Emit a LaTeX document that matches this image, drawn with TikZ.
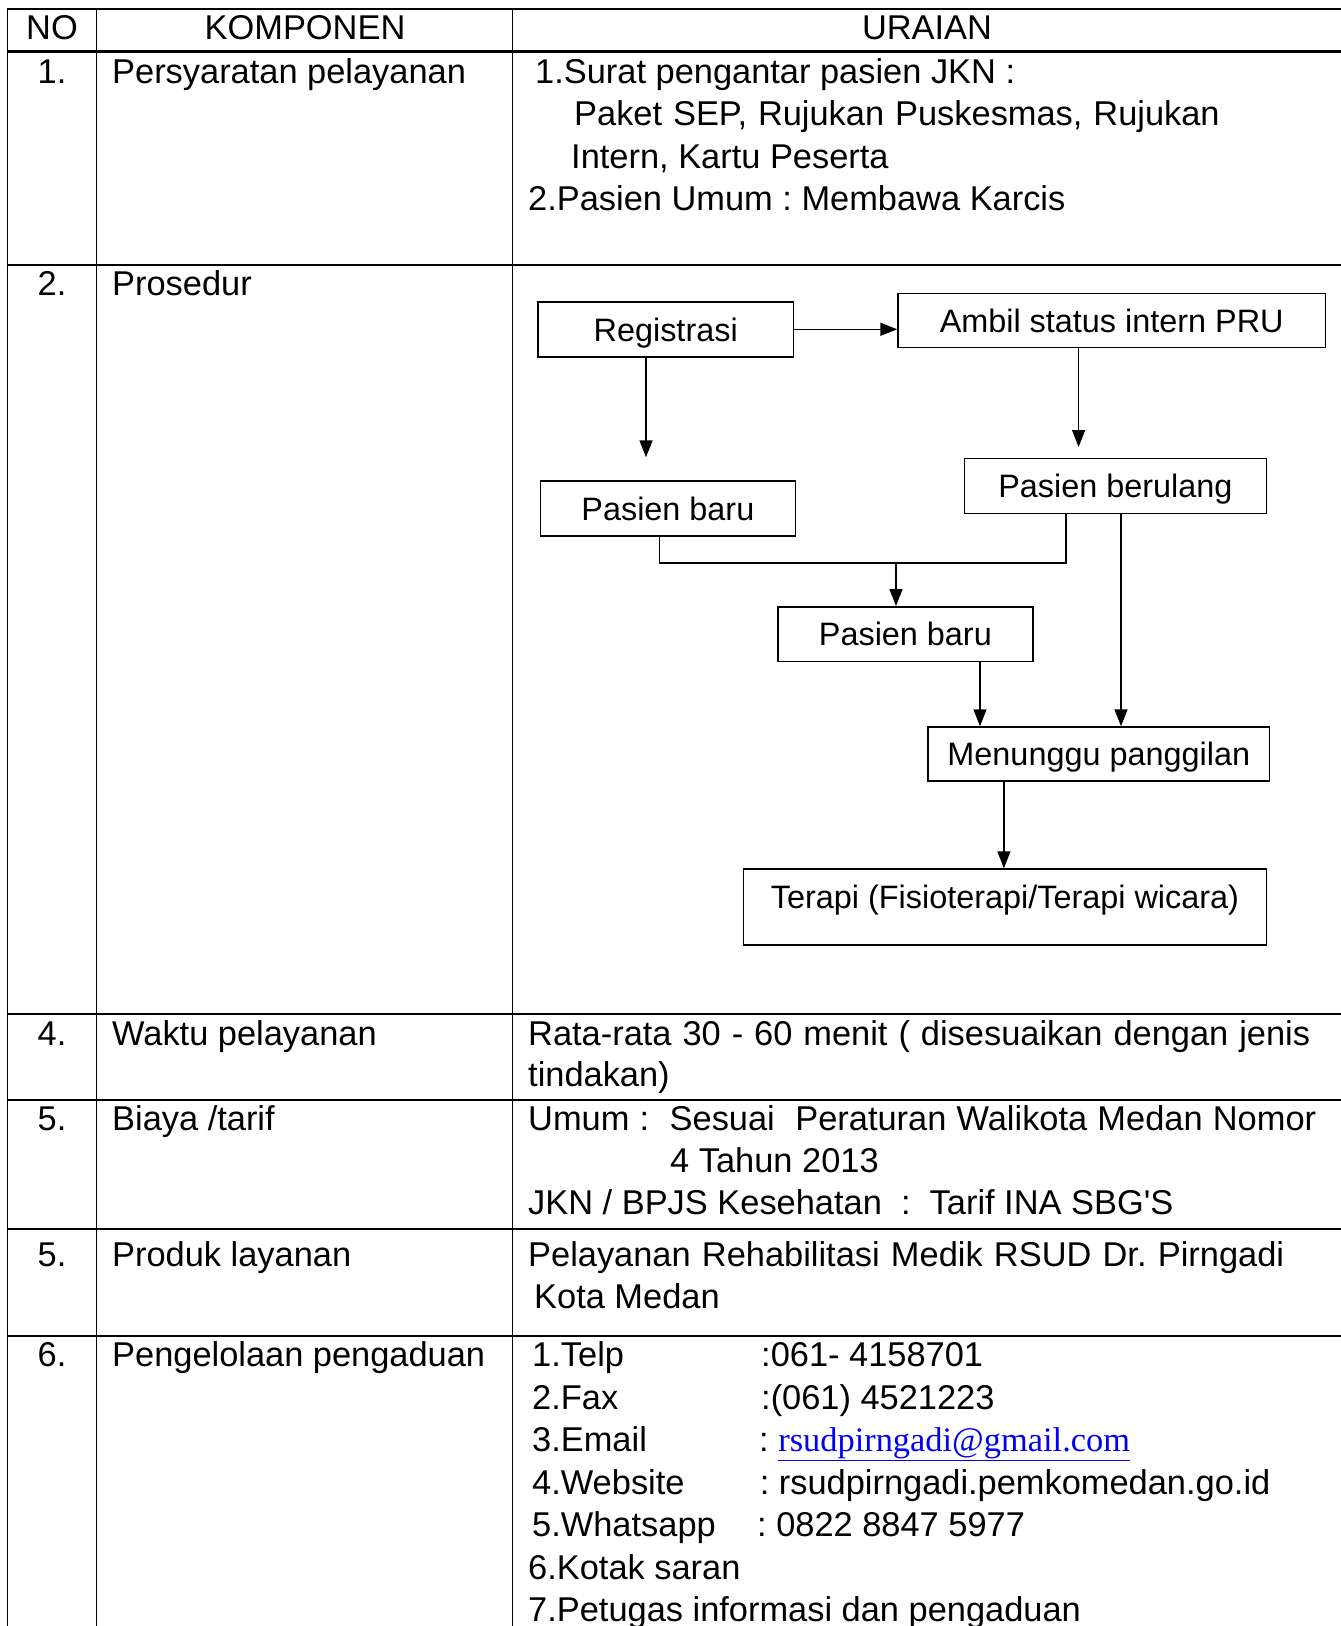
\documentclass[tikz,border=0pt]{standalone}
\usepackage{fontspec}
\setmainfont{Liberation Sans}
\newfontfamily\mailfont{Liberation Serif}
\usepackage{xcolor}
\usetikzlibrary{arrows.meta}
\newcommand\tabsize{\fontsize{34.4pt}{42.5pt}\selectfont}
\newcommand\boxsize{\fontsize{32.4pt}{38pt}\selectfont}
\newcommand\justline[2]{\hbox to #1pt{#2}}
\definecolor{linkblue}{RGB}{0,0,238}
\frenchspacing

\begin{document}
\begin{tikzpicture}[x=1pt,y=-1pt,
  txt/.style={anchor=base west,inner sep=0pt,font=\tabsize},
  num/.style={anchor=base,inner sep=0pt,font=\tabsize},
  box/.style={draw,line width=1.5pt,inner sep=0pt,font=\boxsize,text height=23.5pt,text depth=0pt},
  arr/.style={line width=1.5pt,-{Triangle[length=17pt,width=13pt]}},
  hline/.style={line width=2.2pt},
  vline/.style={line width=1.3pt}]
\useasboundingbox (0,0) rectangle (1341,1626);
\fill[white] (0,0) rectangle (1341,1626);
\draw[vline] (7.5,9.3)--(7.5,1626);
\draw[vline] (96.6,9.3)--(96.6,1626);
\draw[vline] (512.8,9.3)--(512.8,1626);
\foreach \y in {9.3,51.5,264.8,1013.6,1099.6,1229,1335.8}
  \draw[hline] (6.8,\y)--(1341,\y);

\node[num] (hno) at (52,39.4) {NO};
\node[num] (hkomp) at (305,39.4) {KOMPONEN};
\node[num] (hurai) at (927,39.4) {URAIAN};

\node[num] (no1) at (52,83.3) {1.};
\node[txt] (komp1) at (112,83.3) {Persyaratan pelayanan};
\node[txt] (syarat1) at (535,83.3) {1.Surat pengantar pasien JKN :};
\node[txt] (syarat2) at (574,125.8) {\justline{645.5}{Paket SEP, Rujukan Puskesmas, Rujukan}};
\node[txt] (syarat3) at (571,168.3) {Intern, Kartu Peserta};
\node[txt] (syarat4) at (528,210.5) {2.Pasien Umum : Membawa Karcis};

\node[num] (no2) at (52,295.5) {2.};
\node[txt] (komp2) at (112,295.5) {Prosedur};

\node[box,minimum width=255.4pt,minimum height=54.9pt] (reg) at (665.7,329.3) {Registrasi};
\node[box,minimum width=427.4pt,minimum height=53.9pt] (ambil) at (1111.7,320.5) {Ambil status intern PRU};
\node[box,minimum width=255.1pt,minimum height=55pt] (baru1) at (667.9,508.7) {Pasien baru};
\node[box,minimum width=301.8pt,minimum height=54.9pt] (ulang) at (1115.4,485.9) {Pasien berulang};
\node[box,minimum width=255.2pt,minimum height=54.9pt] (baru2) at (905.4,634.2) {Pasien baru};
\node[box,minimum width=341.2pt,minimum height=54pt] (tunggu) at (1098.8,754) {Menunggu panggilan};
\node[box,minimum width=522.7pt,minimum height=75.8pt,text depth=21pt] (terapi) at (1005,906.9) {Terapi (Fisioterapi/Terapi wicara)};

\coordinate (tipreg) at (646,457.3);
\coordinate (tipambil) at (1078.6,447);
\coordinate (jl) at (659.6,563.1);
\coordinate (jm) at (896,563.1);
\coordinate (jr) at (1066,563.1);
\coordinate (xulang) at (1121,0);
\coordinate (xbaru) at (980,0);
\coordinate (xtunggu) at (1003.9,0);
\draw[arr] (reg.east) -- (reg.east -| ambil.west);
\draw[arr] (reg.south -| tipreg) -- (tipreg);
\draw[arr] (ambil.south -| tipambil) -- (tipambil);
\draw[line width=1.5pt] (baru1.south -| jl) -- (jl) -- (jr) -- (ulang.south -| jr);
\draw[arr] (jm) -- (jm |- baru2.north);
\draw[arr] (ulang.south -| xulang) -- (tunggu.north -| xulang);
\draw[arr] (baru2.south -| xbaru) -- (tunggu.north -| xbaru);
\draw[arr] (tunggu.south -| xtunggu) -- (terapi.north -| xtunggu);

\node[num] (no4) at (52,1045) {4.};
\node[txt] (komp4) at (112,1045) {Waktu pelayanan};
\node[txt] (waktu1) at (528,1045) {\justline{782}{Rata-rata 30 - 60 menit ( disesuaikan dengan jenis}};
\node[txt] (waktu2) at (528,1086.7) {tindakan)};

\node[num] (no5) at (52,1130) {5.};
\node[txt] (komp5) at (112,1130) {Biaya /tarif};
\node[txt] (biaya1) at (528,1130) {\justline{788}{Umum :\ \ Sesuai\ \ Peraturan Walikota Medan Nomor}};
\node[txt] (biaya2) at (670,1172.3) {4 Tahun 2013};
\node[txt] (biaya3) at (528,1214) {JKN / BPJS Kesehatan\ \ :\ \ Tarif INA SBG\textquotesingle S};

\node[num] (no5b) at (52,1266.7) {5.};
\node[txt] (komp5b) at (112,1266.7) {Produk layanan};
\node[txt] (produk1) at (528,1266.7) {\justline{756}{Pelayanan Rehabilitasi Medik RSUD Dr. Pirngadi}};
\node[txt] (produk2) at (534,1308.3) {Kota Medan};

\node[num] (no6) at (52,1366.5) {6.};
\node[txt] (komp6) at (112,1366.5) {Pengelolaan pengaduan};
\node[txt] (telp) at (532,1366.5) {1.Telp};
\node[txt] (telpv) at (761,1366.5) {:061- 4158701};
\node[txt] (fax) at (532,1409) {2.Fax};
\node[txt] (faxv) at (761,1409) {:(061) 4521223};
\node[txt] (mail) at (532,1451.5) {3.Email};
\node[txt] (mailv) at (759,1451.5) {: {\mailfont\color{linkblue}\underline{rsudpirngadi@gmail.com}}};
\node[txt] (web) at (532,1494) {4.Website};
\node[txt] (webv) at (759.6,1494) {: rsudpirngadi.pemkomedan.go.id};
\node[txt] (wa) at (532,1536.5) {5.Whatsapp};
\node[txt] (wav) at (757,1536.5) {: 0822 8847 5977};
\node[txt] (kotak) at (528,1579) {6.Kotak saran};
\node[txt] (petugas) at (528,1621.5) {7.Petugas informasi dan pengaduan};
\end{tikzpicture}
\end{document}
